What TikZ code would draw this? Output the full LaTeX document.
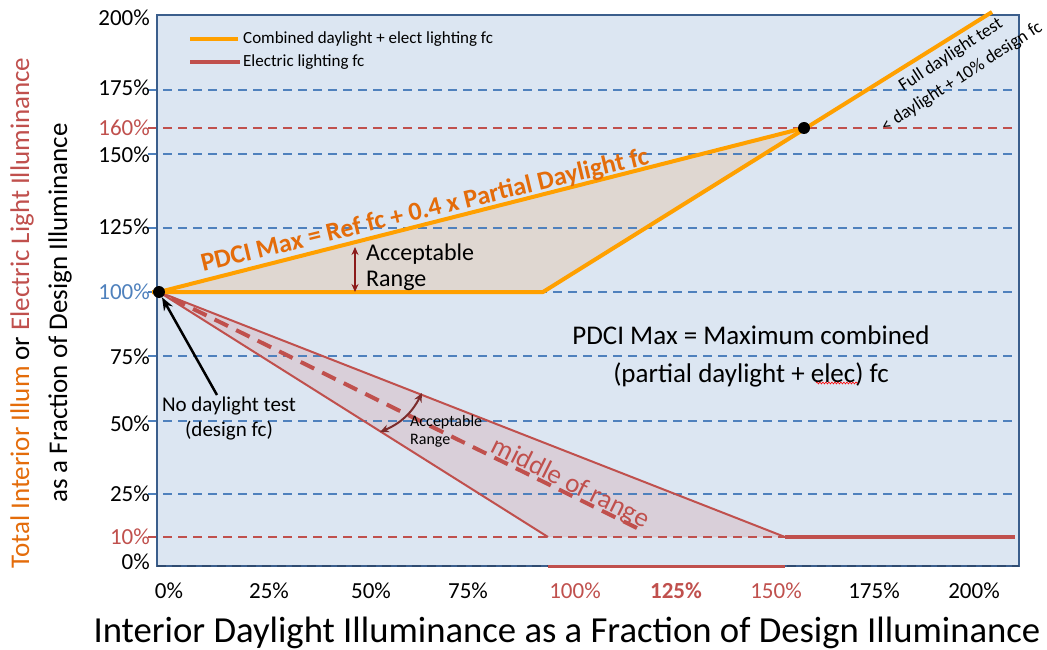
\documentclass[tikz,border=0pt]{standalone}
\usepackage{fontspec}
\setmainfont{Carlito}
\usetikzlibrary{arrows.meta,decorations.pathmorphing}
\definecolor{bgblue}{HTML}{DCE6F2}
\definecolor{frameblue}{HTML}{3B5E8C}
\definecolor{gridblue}{HTML}{4F81BD}
\definecolor{lred}{HTML}{C0504D}
\definecolor{lorange}{HTML}{FFA000}
\definecolor{torange}{HTML}{E46C0A}
\definecolor{fillbeige}{HTML}{DFD7D1}
\definecolor{fillpink}{HTML}{D9CFD9}
\definecolor{darkred}{HTML}{8B1A1A}
\definecolor{arcred}{HTML}{7B2C2C}
\tikzset{
  gridb/.style={gridblue, line width=1.6pt, dash pattern=on 9pt off 6pt},
  gridr/.style={lred, line width=1.6pt, dash pattern=on 9pt off 6pt},
  ticklab/.style={font=\fontsize{23}{27}\selectfont, anchor=east, inner sep=0pt},
  xticklab/.style={font=\fontsize{23}{27}\selectfont, anchor=center, inner sep=0pt},
  orangeline/.style={lorange, line width=4pt, line join=round},
  redline/.style={lred, line width=2pt, line join=round},
  blackdot/.style={circle, fill=black, inner sep=0pt, minimum size=12pt},
  plain/.style={inner sep=0pt, align=center}
}
\begin{document}
\begin{tikzpicture}[x=1pt,y=-1pt]
\useasboundingbox (0,0) rectangle (1047,650);
\fill[white] (0,0) rectangle (1047,650);

% plot area
\coordinate (fTL) at (157,15);
\coordinate (fBR) at (1019,566);
\fill[bgblue] (fTL) rectangle (fBR);

% key points
\coordinate (O) at (159,292);
\coordinate (Ostart) at (152,292);
\coordinate (K) at (543,292);
\coordinate (P) at (804,128);
\coordinate (T) at (992,12);
\coordinate (R1) at (548,537);
\coordinate (R2) at (785,537);
\coordinate (R3) at (1015,537);
\coordinate (M) at (643,531);
\coordinate (B1) at (548,566);
\coordinate (B2) at (785,566);

% shaded ranges
\fill[fillbeige] (O) -- (P) -- (K) -- cycle;
\fill[fillpink] (O) -- (R2) -- (R1) -- cycle;

% grid lines
\foreach \yy in {90,154,228,292,356,421,494}
  \draw[gridb] (148,\yy) -- (1019,\yy);
\draw[gridr] (148,128) -- (1019,128);
\draw[gridr] (148,537) -- (1019,537);

% frame
\draw[frameblue, line width=2.5pt] (fTL) rectangle (fBR);
\draw[gridb, frameblue!80!black] (157,566) -- (1019,566);
\draw[lred, line width=3pt] (B1) -- (B2);

% electric lighting lines
\draw[redline] (O) -- (R1);
\draw[redline] (O) -- (R2);
\draw[lred, line width=4pt] (R2) -- (R3);
\draw[lred, line width=4pt, dash pattern=on 15pt off 9pt, dash phase=-14pt] (O) -- (M);

% combined lines
\draw[orangeline] (Ostart) -- (K) -- (T);
\draw[orangeline] (O) -- (P);

% dots
\node[blackdot] (dotO) at (O) {};
\node[blackdot] (dotP) at (P) {};

% legend
\draw[orangeline] (190,39) -- (238,39);
\draw[lred, line width=3.5pt] (190,62) -- (240,62);
\node[font=\fontsize{17}{20}\selectfont, anchor=west, inner sep=0pt] (leg1) at (243,39) {Combined daylight + elect lighting fc};
\node[font=\fontsize{17}{20}\selectfont, anchor=west, inner sep=0pt] (leg2) at (243,62) {Electric lighting fc};

% y tick labels
\node[ticklab] (y200) at (150,18) {200\%};
\node[ticklab] (y175) at (150,88) {175\%};
\node[ticklab, text=lred] (y160) at (150,128) {160\%};
\node[ticklab] (y150) at (150,155) {150\%};
\node[ticklab] (y125) at (150,227) {125\%};
\node[ticklab, text=gridblue] (y100) at (150,292) {100\%};
\node[ticklab] (y75) at (150,357) {75\%};
\node[ticklab] (y50) at (150,424) {50\%};
\node[ticklab] (y25) at (150,494) {25\%};
\node[ticklab, text=lred] (y10) at (150,537) {10\%};
\node[ticklab] (y0) at (150,562) {0\%};

% x tick labels
\node[xticklab] (x0) at (169,591) {0\%};
\node[xticklab] (x25) at (269,591) {25\%};
\node[xticklab] (x50) at (371,591) {50\%};
\node[xticklab] (x75) at (468,591) {75\%};
\node[xticklab, text=lred] (x100) at (575,591) {100\%};
\node[xticklab, text=lred, font=\bfseries\fontsize{23}{27}\selectfont] (x125) at (676,591) {125\%};
\node[xticklab, text=lred] (x150) at (776,591) {150\%};
\node[xticklab] (x175) at (874,591) {175\%};
\node[xticklab] (x200) at (974,591) {200\%};

% axis titles
\node[plain, font=\fontsize{36.7}{40}\selectfont] (xtitle) at (567,633) {Interior Daylight Illuminance as a Fraction of Design Illuminance};
\node[plain, rotate=90, font=\fontsize{27}{38}\selectfont] (ytitle) at (41,313)
  {{\color{torange}Total Interior Illum} or {\color{lred}Electric Light Illuminance}\\as a Fraction of Design Illuminance};

% annotations
\node[plain, text=torange, rotate=13.6, font=\bfseries\fontsize{26}{30}\selectfont] (pdci) at (425,211) {PDCI Max = Ref fc + 0.4 x Partial Daylight fc};
\node[inner sep=0pt, anchor=west, align=left, font=\fontsize{24}{26}\selectfont] (acc1) at (366,267) {Acceptable\\Range};
\coordinate (va1) at (355,247);
\coordinate (va2) at (355,292);
\draw[darkred, line width=2pt, {Stealth[length=8pt,width=7pt]}-{Stealth[length=8pt,width=7pt]}] (va1) -- (va2);

\node[plain, font=\fontsize{27}{38}\selectfont] (pdcidef) at (751,356) {PDCI Max = Maximum combined\\(partial daylight + elec) fc};
\draw[red, line width=0.6pt, decorate, decoration={snake, amplitude=0.9pt, segment length=3pt}] (816,383) -- (858,383);

\node[plain, font=\fontsize{21}{25}\selectfont] (noday) at (229,419) {No daylight test\\(design fc)};
\coordinate (natail) at (217,395);
\draw[black, line width=2.5pt, -{Stealth[length=13pt,width=10pt]}] (natail) -- (dotO);

\node[inner sep=0pt, anchor=west, align=left, font=\fontsize{16}{18}\selectfont] (acc2) at (410,431) {Acceptable\\Range};
\coordinate (ca1) at (380,432);
\coordinate (ca2) at (422,393);
\draw[arcred, line width=2pt, {Stealth[length=9pt,width=8pt]}-{Stealth[length=9pt,width=8pt]}] (ca1) to[bend right=20] (ca2);

\node[inner sep=0pt, anchor=base, text=lred, rotate=-26.5, font=\fontsize{27}{32}\selectfont] (mid) at (567,490) {middle of range};

\node[plain, rotate=33, font=\fontsize{18}{21}\selectfont] (full1) at (951,55) {Full daylight test};
\node[plain, rotate=33, font=\fontsize{18}{21}\selectfont] (full2) at (962,77) {< daylight + 10\% design fc};
\end{tikzpicture}
\end{document}
